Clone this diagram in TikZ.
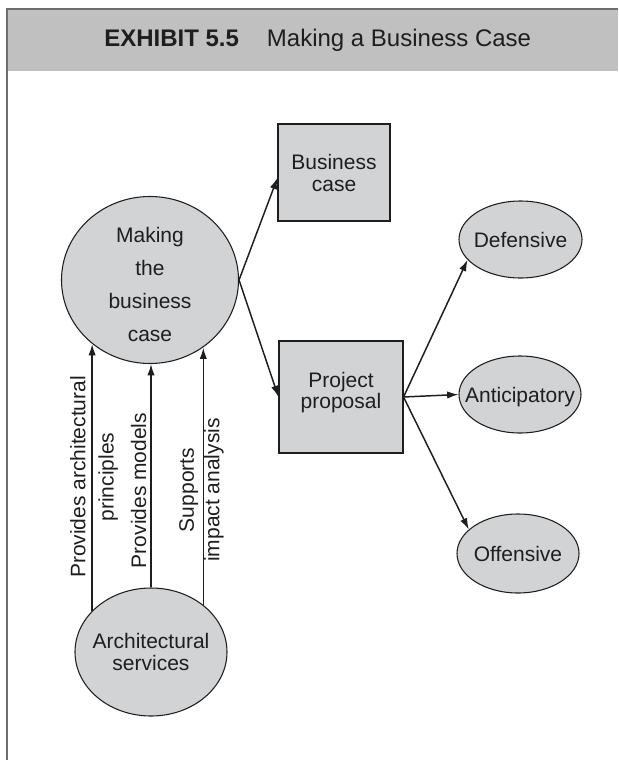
\documentclass[tikz,border=0pt]{standalone}
\usepackage{fontspec}
\setmainfont{Liberation Sans}
\usetikzlibrary{arrows.meta,shapes.geometric}
\usepackage{xcolor}

\definecolor{headgray}{RGB}{192,192,192}
\definecolor{shapegray}{RGB}{210,211,213}
\definecolor{inkgray}{RGB}{30,30,30}
\definecolor{framegray}{RGB}{110,110,110}

\begin{document}
\begin{tikzpicture}[x=0.75pt, y=-0.75pt,
    every node/.style={
        inner sep=0pt,
        align=center,
        text=inkgray,
        font=\fontsize{15.75}{16.5}\selectfont
    },
    casebox/.style={rectangle, draw=inkgray, line width=0.8pt, fill=shapegray},
    casebubble/.style={ellipse, draw=inkgray, line width=0.8pt, fill=shapegray},
    sidelabel/.style={rotate=90},
    link/.style={draw=inkgray, line width=1.1pt, -{Latex[length=8.5pt,width=5.5pt]}}
]

    \useasboundingbox (0,0) rectangle (618,760);

    \fill[headgray] (7,9) rectangle (618,71);
    \draw[framegray, line width=0.8pt] (618,9) -- (7,9) -- (7,760);

    \node (exhibit_title) [anchor=base west, shift={(104,46)}, font=\fontsize{18}{20}\selectfont]
    {
        \textbf{EXHIBIT 5.5}\hspace{21pt}Making a Business Case
    };



    \node (making) [casebubble, minimum width=132.75pt, minimum height=125.25pt, shift={(150,280)},
        label={[yshift=-3.4pt, font=\fontsize{15.75}{24.75}\selectfont]center:{Making\\the\\business\\case}}]
    {};

    \node (arch) [casebubble, minimum width=114pt, minimum height=96pt, shift={(151,652)},
        label={center:{Architectural\\services}}]
    {};

    \node (bcase) [casebox, minimum width=84pt, minimum height=72.75pt, shift={(334,172.5)}]
    {
        Business\\case
    };

    \node (proposal) [casebox, minimum width=93pt, minimum height=84pt, shift={(341,397)},
        label={[yshift=3pt, font=\fontsize{15.75}{15.75}\selectfont]center:{Project\\proposal}}]
    {};

    \node (defensive) [casebubble, minimum width=92.25pt, minimum height=57.75pt, shift={(520.5,239.5)},
        label={center:Defensive}]
    {};

    \node (anticip) [casebubble, minimum width=91.5pt, minimum height=57.75pt, shift={(520,394.5)},
        label={[yshift=-2.25pt]center:Anticipatory}]
    {};

    \node (offensive) [casebubble, minimum width=91.5pt, minimum height=59.25pt, shift={(518,553.5)},
        label={center:Offensive}]
    {};



    \node (lbl_principles) [shift={(94,477)}, sidelabel, font=\fontsize{15.75}{21.25}\selectfont]
    {
        Provides architectural\\principles
    };

    \node (lbl_models) [shift={(138.5,487.5)}, sidelabel]
    {
        Provides models
    };

    \node (lbl_impact) [shift={(201.5,490)}, sidelabel, font=\fontsize{15.75}{19}\selectfont]
    {
        Supports\\impact analysis
    };


    \draw[link] (making.east) to ([yshift=-4pt]bcase.west);
    \draw[link] (making.east) to (proposal.west);

    \draw[link] (proposal.east) to (defensive.201);
    \draw[link] (proposal.east) to (anticip.west);
    \draw[link] (proposal.east) to (offensive.154);

    \draw[link] (arch.145) to (arch.145 |- making.228);
    \draw[link] (arch.north) to (arch.north |- making.south);
    \draw[link] (arch.42) to (arch.42 |- making.308);


\end{tikzpicture}
\end{document}
